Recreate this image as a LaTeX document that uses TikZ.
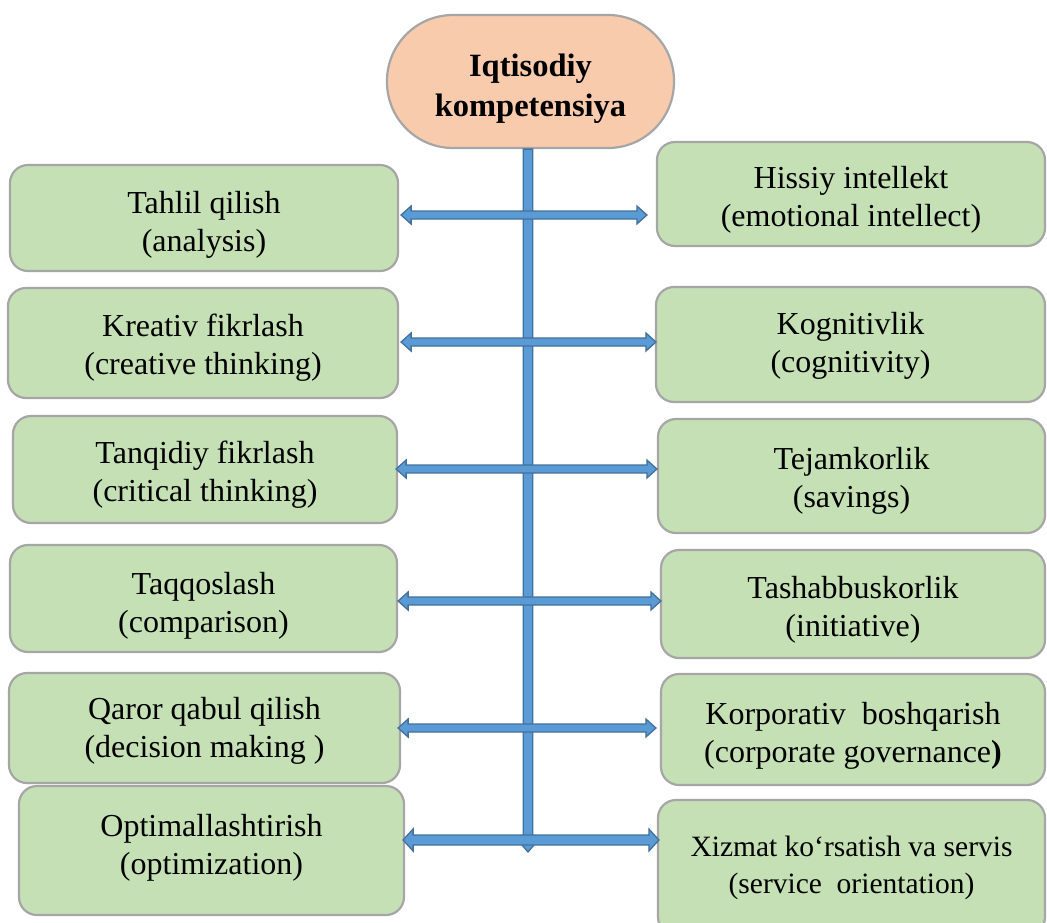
\documentclass[tikz,border=0pt]{standalone}
\usepackage{fontspec}
\IfFontExistsTF{LiberationSerif-Regular.ttf}{%
  \setmainfont{LiberationSerif}[Extension=.ttf, UprightFont=*-Regular, BoldFont=*-Bold, ItalicFont=*-Italic, BoldItalicFont=*-BoldItalic]}{%
  \setmainfont{Liberation Serif}}
\usetikzlibrary{calc}
\definecolor{boxgreen}{HTML}{C5E0B4}
\definecolor{boxline}{HTML}{A6A6A6}
\definecolor{peach}{HTML}{F8CBAD}
\definecolor{arrowfill}{HTML}{5B9BD5}
\definecolor{arrowline}{HTML}{41719C}
\newcommand\hblock[4]{%
  \filldraw[fill=arrowfill, draw=arrowline, line width=1.3pt, line join=miter]
  let \p1=(#1), \p2=(#2) in
  (\x1,\y1) -- (\x1+10pt,\y1+#4) -- (\x1+10pt,\y1+#3) -- (\x2-10pt,\y2+#3)
  -- (\x2-10pt,\y2+#4) -- (\x2,\y2) -- (\x2-10pt,\y2-#4) -- (\x2-10pt,\y2-#3)
  -- (\x1+10pt,\y1-#3) -- (\x1+10pt,\y1-#4) -- cycle;}
\newcommand\vblock[4]{%
  \filldraw[fill=arrowfill, draw=arrowline, line width=1.3pt, line join=miter]
  let \p1=(#1), \p2=(#2) in
  (\x1-#3,\y1) -- (\x1+#3,\y1) -- (\x2+#3,\y2+10pt) -- (\x2+#4,\y2+10pt)
  -- (\x2,\y2) -- (\x2-#4,\y2+10pt) -- (\x2-#3,\y2+10pt) -- cycle;}
\newcommand\boxtext[2][6pt]{\raisebox{-#1}[\height][\depth]{\begin{tabular}{@{}c@{}}#2\end{tabular}}}
\tikzset{
  gbox/.style={draw=boxline, line width=2.2pt, fill=boxgreen, rounded corners=18pt,
    align=center, inner sep=0pt, font=\fontsize{32}{38}\selectfont},
  titlebox/.style={draw=boxline, line width=2.2pt, fill=peach, rounded corners=66pt,
    align=center, inner sep=0pt, font=\fontsize{32.5}{40}\selectfont\bfseries},
}
\begin{document}
\begin{tikzpicture}[x=1pt,y=-1pt]
\useasboundingbox[fill=white] (0,0) rectangle (1047,922);
% title
\node[titlebox, minimum width=287pt, minimum height=133pt] (T) at (530.5,81.5) {\boxtext[7pt]{Iqtisodiy\\kompetensiya}};
% left boxes
\node[gbox, minimum width=388pt, minimum height=106pt] (L1) at (204,218) {\boxtext[7pt]{Tahlil qilish\\(analysis)}};
\node[gbox, minimum width=390pt, minimum height=110pt] (L2) at (203,343) {\boxtext[5pt]{Kreativ fikrlash\\(creative thinking)}};
\node[gbox, minimum width=384pt, minimum height=107pt] (L3) at (205,469.5) {\boxtext[5pt]{Tanqidiy fikrlash\\(critical thinking)}};
\node[gbox, minimum width=387pt, minimum height=107pt] (L4) at (203.5,598.5) {\boxtext[7pt]{Taqqoslash\\(comparison)}};
\node[gbox, minimum width=391pt, minimum height=110pt] (L5) at (204.5,728) {\boxtext[3pt]{Qaror qabul qilish\\(decision making )}};
\node[gbox, minimum width=385pt, minimum height=129pt] (L6) at (211.5,850.5) {\boxtext[-3pt]{Optimallashtirish\\(optimization)}};
% right boxes
\node[gbox, minimum width=388pt, minimum height=104pt] (R1) at (851,194) {\boxtext[6pt]{Hissiy intellekt\\(emotional intellect)}};
\node[gbox, minimum width=389pt, minimum height=115pt] (R2) at (850.5,344.5) {\boxtext[1pt]{Kognitivlik\\(cognitivity)}};
\node[gbox, minimum width=387pt, minimum height=114pt] (R3) at (851.5,476) {\boxtext[5pt]{Tejamkorlik\\(savings)}};
\node[gbox, minimum width=384pt, minimum height=108pt] (R4) at (853,604) {\boxtext[6pt]{Tashabbuskorlik\\(initiative)}};
\node[gbox, minimum width=384pt, minimum height=111pt] (R5) at (853,729.5) {\boxtext[6pt]{Korporativ\ \ boshqarish\\(corporate governance\textbf{)}}};
\node[gbox, minimum width=387pt, minimum height=135pt, font=\fontsize{29.5}{37}\selectfont] (R6) at (851.5,867.5) {\boxtext[0pt]{Xizmat ko‘rsatish va servis\\(service\ \ orientation)}};
% spine coordinates
\coordinate (s1) at (528,215);
\coordinate (s2) at (528,342);
\coordinate (s3) at (528,469);
\coordinate (s4) at (528,601);
\coordinate (s5) at (528,728);
\coordinate (s6) at (528,840);
\coordinate (vend) at (528,852);
% vertical arrow
\vblock{T.south -| s1}{vend}{4.8pt}{8.5pt}
% horizontal arrows
\hblock{$(L1.east |- s1)+(2,0)$}{$(R1.west |- s1)+(-9,0)$}{4pt}{9pt}
\hblock{$(L2.east |- s2)+(2,0)$}{$(R2.west |- s2)+(1,0)$}{4pt}{9pt}
\hblock{$(L3.east |- s3)+(-2,0)$}{$(R3.west |- s3)+(0,0)$}{4pt}{9pt}
\hblock{$(L4.east |- s4)+(0,0)$}{$(R4.west |- s4)+(1,0)$}{4pt}{9pt}
\hblock{$(L5.east |- s5)+(-3,0)$}{$(R5.west |- s5)+(-4,0)$}{4pt}{9pt}
\hblock{$(L6.east |- s6)+(-2,0)$}{$(R6.west |- s6)+(2,0)$}{5pt}{11pt}
\end{tikzpicture}
\end{document}
